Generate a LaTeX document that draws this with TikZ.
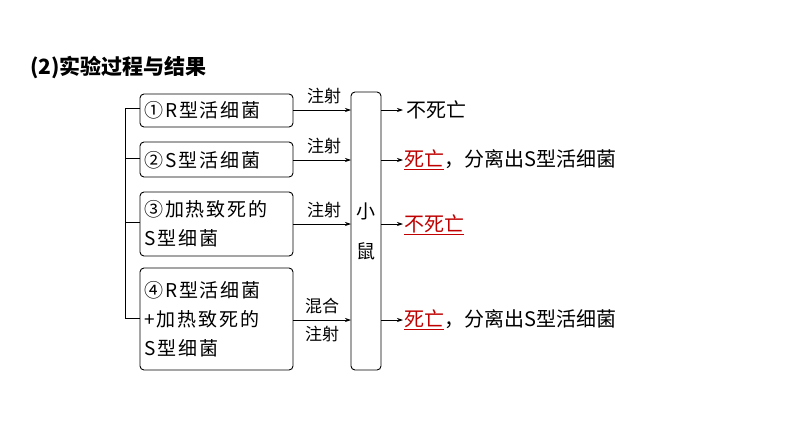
\documentclass[tikz,border=0pt]{standalone}
\usepackage{fontspec}
\setmainfont{Noto Sans CJK SC}
\newfontfamily\cjk{Noto Sans CJK SC}
\newfontfamily\spc[LetterSpace=10]{Noto Sans CJK SC}
\usetikzlibrary{arrows.meta}
\definecolor{dred}{RGB}{192,0,0}
\tikzset{
 bx/.style={draw,rounded corners=4pt,line width=0.9pt},
 tx/.style={anchor=west,inner sep=0pt,font=\spc\fontsize{19}{29}\selectfont,align=left},
 lb/.style={inner sep=0pt,font=\cjk\fontsize{17}{25}\selectfont,align=center},
 ar/.style={-{Stealth[length=6pt,width=4pt]},line width=0.7pt},
 rs/.style={anchor=west,inner sep=0pt,font=\cjk\fontsize{20}{24}\selectfont},
}
\begin{document}
\begin{tikzpicture}[x=1pt,y=-1pt]
\useasboundingbox[fill=white] (0,0) rectangle (794,447);
\node[anchor=west,inner sep=0pt,font=\cjk\bfseries\fontsize{21}{24}\selectfont] (t) at (30,68) {(2)实验过程与结果};
\draw[bx] (140,94) rectangle (293,127);
\draw[bx] (140,142) rectangle (293,177);
\draw[bx] (140,192) rectangle (293,256);
\draw[bx] (140,268) rectangle (293,370);
\draw[bx] (351,92) rectangle (381,370);
\node[tx] (t1) at (144,110) {①R型活细菌};
\node[tx] (t2) at (144,160) {②S型活细菌};
\node[tx] (t3) at (144,224) {③加热致死的\\S型细菌};
\node[tx] (t4) at (144,319) {④R型活细菌\\+加热致死的\\S型细菌};
\node[lb,font=\cjk\fontsize{19}{24}\selectfont] (m) at (366,231) {小\\[16pt]鼠};
\draw[line width=0.8pt] (140,108) -- (125,108) -- (125,318) -- (140,318);
\draw[line width=0.8pt] (125,158) -- (140,158) (125,222) -- (140,222);
\foreach \y/\l in {110/注射,160/注射,224/注射}{
 \draw[ar] (293,\y) -- (351,\y);
 \node[lb] at (324,\y-14) {\l};
 \draw[ar] (381,\y) -- (403,\y);
}
\draw[ar] (293,320) -- (351,320);
\draw[ar] (381,320) -- (403,320);
\node[lb] (h1) at (322,306) {混合};
\node[lb] (h2) at (322,334) {注射};
\node[rs] (r1) at (406,110) {不死亡};
\node[rs] (r2) at (404,160) {\textcolor{dred}{\underline{死亡}}，分离出S型活细菌};
\node[rs] (r3) at (404,225) {\textcolor{dred}{\underline{不死亡}}};
\node[rs] (r4) at (404,320) {\textcolor{dred}{\underline{死亡}}，分离出S型活细菌};
\end{tikzpicture}
\end{document}
